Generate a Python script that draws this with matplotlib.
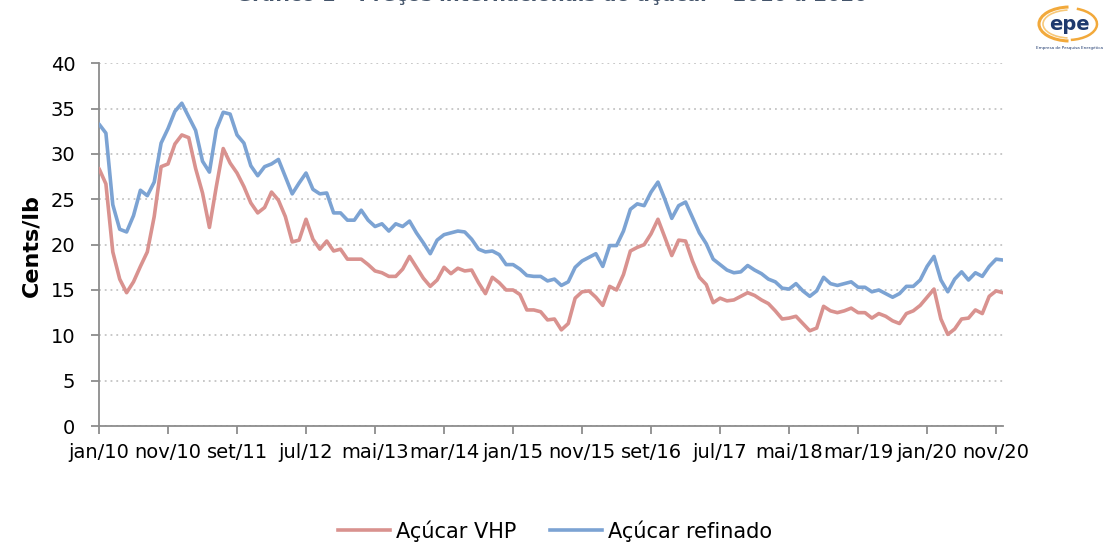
import matplotlib
matplotlib.use("Agg")
import matplotlib.pyplot as plt
from matplotlib.patches import Arc
from matplotlib.lines import Line2D

plt.rcParams['font.family'] = ['DejaVu Sans']

# ---------------- data ----------------
month_abbr = ["jan", "fev", "mar", "abr", "mai", "jun",
              "jul", "ago", "set", "out", "nov", "dez"]
years = list(range(2010, 2021))
categories = [f"{m}/{str(y)[2:]}" for y in years for m in month_abbr]

acucar_vhp = [
    28.4, 26.7, 19.2, 16.2, 14.7, 15.9, 17.6, 19.2, 23.1, 28.6, 28.9, 31.1,
    32.1, 31.8, 28.4, 25.7, 21.9, 26.4, 30.6, 29.0, 27.9, 26.4, 24.6, 23.5,
    24.1, 25.8, 24.9, 23.1, 20.3, 20.5, 22.8, 20.6, 19.5, 20.4, 19.3, 19.5,
    18.4, 18.4, 18.4, 17.8, 17.1, 16.9, 16.5, 16.5, 17.3, 18.7, 17.5, 16.3,
    15.4, 16.1, 17.5, 16.8, 17.4, 17.1, 17.2, 15.8, 14.6, 16.4, 15.8, 15.0,
    15.0, 14.5, 12.8, 12.8, 12.6, 11.7, 11.8, 10.6, 11.3, 14.1, 14.8, 14.9,
    14.2, 13.3, 15.4, 15.0, 16.7, 19.3, 19.7, 20.0, 21.2, 22.8, 20.8, 18.8,
    20.5, 20.4, 18.2, 16.4, 15.6, 13.6, 14.1, 13.8, 13.9, 14.3, 14.7, 14.4,
    13.9, 13.5, 12.7, 11.8, 11.9, 12.1, 11.3, 10.5, 10.8, 13.2, 12.7, 12.5,
    12.7, 13.0, 12.5, 12.5, 11.9, 12.4, 12.1, 11.6, 11.3, 12.4, 12.7, 13.3,
    14.2, 15.1, 11.8, 10.1, 10.7, 11.8, 11.9, 12.8, 12.4, 14.3, 14.9, 14.7,
]

acucar_refinado = [
    33.3, 32.3, 24.4, 21.7, 21.4, 23.2, 26.0, 25.4, 26.9, 31.2, 32.8, 34.7,
    35.6, 34.1, 32.6, 29.2, 28.0, 32.7, 34.6, 34.4, 32.1, 31.2, 28.7, 27.6,
    28.6, 28.9, 29.4, 27.5, 25.6, 26.8, 27.9, 26.1, 25.6, 25.7, 23.5, 23.5,
    22.7, 22.7, 23.8, 22.7, 22.0, 22.3, 21.5, 22.3, 22.0, 22.6, 21.3, 20.2,
    19.0, 20.5, 21.1, 21.3, 21.5, 21.4, 20.6, 19.5, 19.2, 19.3, 18.9, 17.8,
    17.8, 17.3, 16.6, 16.5, 16.5, 16.0, 16.2, 15.5, 15.9, 17.5, 18.2, 18.6,
    19.0, 17.6, 19.9, 19.9, 21.5, 23.9, 24.5, 24.3, 25.8, 26.9, 25.0, 22.9,
    24.3, 24.7, 23.0, 21.3, 20.1, 18.4, 17.8, 17.2, 16.9, 17.0, 17.7, 17.2,
    16.8, 16.2, 15.9, 15.2, 15.1, 15.7, 14.9, 14.3, 14.9, 16.4, 15.7, 15.5,
    15.7, 15.9, 15.3, 15.3, 14.8, 15.0, 14.6, 14.2, 14.6, 15.4, 15.4, 16.1,
    17.6, 18.7, 16.1, 14.8, 16.2, 17.0, 16.1, 16.9, 16.5, 17.6, 18.4, 18.3,
]

series_names = ["Açúcar VHP", "Açúcar refinado"]
y_ticks = [0, 5, 10, 15, 20, 25, 30, 35, 40]
label_step = 10
title_text = "Gráfico 1 – Preços internacionais do açúcar – 2010 a 2020"

# ---------------- styling ----------------
RED = "#D9928F"
BLUE = "#7CA3D3"
AXIS = "#8C8C8C"
W, H = 1105, 544

fig = plt.figure(figsize=(W / 100, H / 100), dpi=100)
ax = fig.add_axes([99 / W, 118 / H, (1003 - 99) / W, (426 - 63.3) / H])

x = list(range(len(categories)))
ax.plot(x, acucar_vhp, color=RED, lw=2.6, solid_joinstyle="round",
        solid_capstyle="round", zorder=3)
ax.plot(x, acucar_refinado, color=BLUE, lw=2.6, solid_joinstyle="round",
        solid_capstyle="round", zorder=3)

ax.set_xlim(0, len(categories) - 1)
ax.set_ylim(0, 40)

tick_pos = list(range(0, len(categories), label_step))
ax.set_xticks(tick_pos)
ax.set_xticklabels([categories[i] for i in tick_pos])
ax.set_yticks(y_ticks)
ax.set_yticklabels([str(v) for v in y_ticks])

ax.tick_params(axis="x", length=6, width=1.3, color=AXIS, pad=6,
               labelsize=14, labelcolor="#000000")
ax.tick_params(axis="y", length=6, width=1.3, color=AXIS, pad=11,
               labelsize=14, labelcolor="#000000")

for s in ("top", "right"):
    ax.spines[s].set_visible(False)
for s in ("left", "bottom"):
    ax.spines[s].set_color(AXIS)
    ax.spines[s].set_linewidth(1.3)

ax.yaxis.grid(True, linestyle=(0, (1, 2.2)), color="#C4C4C4", lw=1.3)
ax.set_axisbelow(True)

fig.text(31 / W, 1 - 246 / H, "Cents/lb", rotation=90, fontsize=16,
         fontweight="bold", ha="center", va="center")

# title (cut at the top edge as in the reference)
fig.text(552 / W, 1 - 1 / H, title_text, ha="center", va="baseline",
         fontsize=14, fontweight="bold", color="#44546A")

# legend
handles = [Line2D([0], [0], color=RED, lw=2.6),
           Line2D([0], [0], color=BLUE, lw=2.6)]
fig.legend(handles, series_names, loc="center",
           bbox_to_anchor=(555 / W, 1 - 531 / H), ncol=2, frameon=False,
           fontsize=15, handlelength=2.5, handletextpad=0.3,
           columnspacing=1.6)

# epe logo
lax = fig.add_axes([1030 / W, 1 - 52 / H, 75 / W, 52 / H])
lax.set_xlim(0, 75)
lax.set_ylim(0, 52)
lax.axis("off")
lax.add_patch(Arc((40, 28), 62, 34, theta1=95, theta2=265,
                  color="#F2A93B", lw=2.2))
lax.add_patch(Arc((40, 28), 54, 28, theta1=100, theta2=260,
                  color="#F7C879", lw=1.2))
lax.add_patch(Arc((38, 28), 58, 32, theta1=-80, theta2=60,
                  color="#F2A93B", lw=1.8))
lax.text(39, 27, "epe", ha="center", va="center", fontsize=14,
         fontweight="bold", color="#1F3A6E")
lax.text(40, 4, "Empresa de Pesquisa Energética", ha="center",
         va="center", fontsize=3, color="#1F3A6E")

fig.savefig("out.png", dpi=100)
